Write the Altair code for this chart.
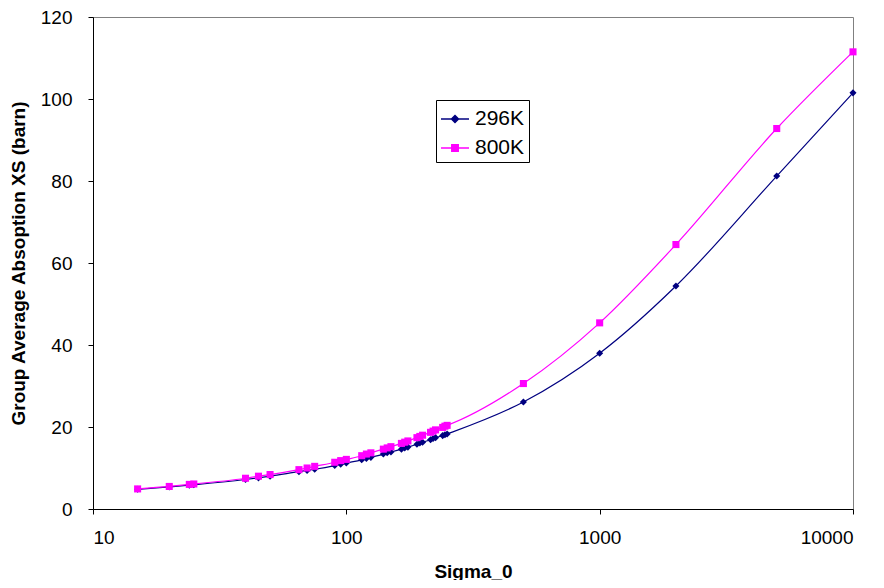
import altair as alt
import pandas as pd

# ---- data ----
sigma_0 = [15, 20, 24, 25, 40, 45, 50, 65, 70, 75, 90, 95, 100,
           115, 120, 125, 140, 145, 150, 165, 170, 175, 190, 195, 200,
           215, 220, 225, 240, 245, 250, 500, 1000, 2000, 5000, 10000]

xs_296K = [4.8, 5.4, 5.8, 5.9, 7.2, 7.6, 8.0, 9.1, 9.4, 9.7, 10.6, 10.9, 11.2,
           12.0, 12.3, 12.6, 13.4, 13.7, 13.9, 14.6, 14.9, 15.1, 15.8, 16.1, 16.3,
           16.9, 17.2, 17.4, 17.9, 18.1, 18.3, 26.1, 38.0, 54.4, 81.2, 101.5]

xs_800K = [4.9, 5.5, 6.0, 6.1, 7.5, 8.0, 8.4, 9.6, 10.0, 10.4, 11.4, 11.8, 12.1,
           13.0, 13.4, 13.7, 14.6, 14.9, 15.2, 16.0, 16.3, 16.6, 17.4, 17.7, 18.0,
           18.7, 19.0, 19.3, 19.9, 20.2, 20.4, 30.6, 45.4, 64.5, 92.8, 111.5]

series_names = ["296K", "800K"]
series_colors = ["#000080", "#FF00FF"]
series_shapes = ["diamond", "square"]
series_sizes = [50, 50]

x_ticks = [10, 100, 1000, 10000]
y_ticks = [0, 20, 40, 60, 80, 100, 120]

rows = []
for name, vals in zip(series_names, [xs_296K, xs_800K]):
    for s, v in zip(sigma_0, vals):
        rows.append({"Sigma_0": s, "XS": v, "Series": name})
df = pd.DataFrame(rows)

FONT = "Liberation Sans"

legend_path_expr = (
    "datum.value === '296K' ? "
    "'M-1,0L1,0M0,-0.25L0.25,0L0,0.25L-0.25,0Z' : "
    "'M-1,0L1,0M-0.23,-0.23L0.23,-0.23L0.23,0.23L-0.23,0.23Z'"
)
legend_fill_expr = "datum.value === '296K' ? '#000080' : '#FF00FF'"

x_enc = alt.X(
    "Sigma_0:Q",
    scale=alt.Scale(type="log", domain=[10, 10000], nice=False),
    axis=alt.Axis(values=x_ticks, format="d", title="Sigma_0", grid=False,
                  tickSize=5, labelPadding=14, titlePadding=15,
                  domainColor="black", tickColor="black"),
)
y_enc = alt.Y(
    "XS:Q",
    scale=alt.Scale(domain=[0, 120], nice=False, zero=True),
    axis=alt.Axis(values=y_ticks, title="Group Average Absoption XS (barn)",
                  grid=False, tickSize=5, labelPadding=16, titlePadding=12,
                  domainColor="black", tickColor="black"),
)
color_enc = alt.Color(
    "Series:N",
    scale=alt.Scale(domain=series_names, range=series_colors),
    legend=alt.Legend(
        title=None, orient="none", legendX=343, legendY=83,
        strokeColor="black", fillColor="white", padding=4,
        labelFont=FONT, labelFontSize=21, labelColor="black", labelOffset=5,
        symbolType={"expr": legend_path_expr}, symbolSize=784,
        symbolFillColor={"expr": legend_fill_expr},
        symbolStrokeWidth=1.5, rowPadding=4, cornerRadius=0,
    ),
)

lines = alt.Chart(df).mark_line(interpolate="monotone", strokeWidth=1.2).encode(
    x=x_enc, y=y_enc, color=color_enc, detail="Series:N"
)

point_layers = []
for name, col, shp, sz in zip(series_names, series_colors, series_shapes, series_sizes):
    point_layers.append(
        alt.Chart(df)
        .transform_filter(alt.datum.Series == name)
        .mark_point(filled=True, opacity=1, color=col, shape=shp, size=sz)
        .encode(x=x_enc, y=y_enc)
    )

chart = (
    alt.layer(lines, *point_layers)
    .properties(width=760, height=492,
                autosize=alt.AutoSizeParams(type="none"),
                padding={"left": 85, "top": 9, "right": 20, "bottom": 71},
                background="white")
    .configure_view(stroke="#808080", strokeWidth=1)
    .configure_axis(labelFont=FONT, labelFontSize=19, labelColor="black",
                    titleFont=FONT, titleFontSize=19, titleFontWeight="bold",
                    titleColor="black")
)

chart.save("out.html", embed_options={"renderer": "svg", "actions": False})
